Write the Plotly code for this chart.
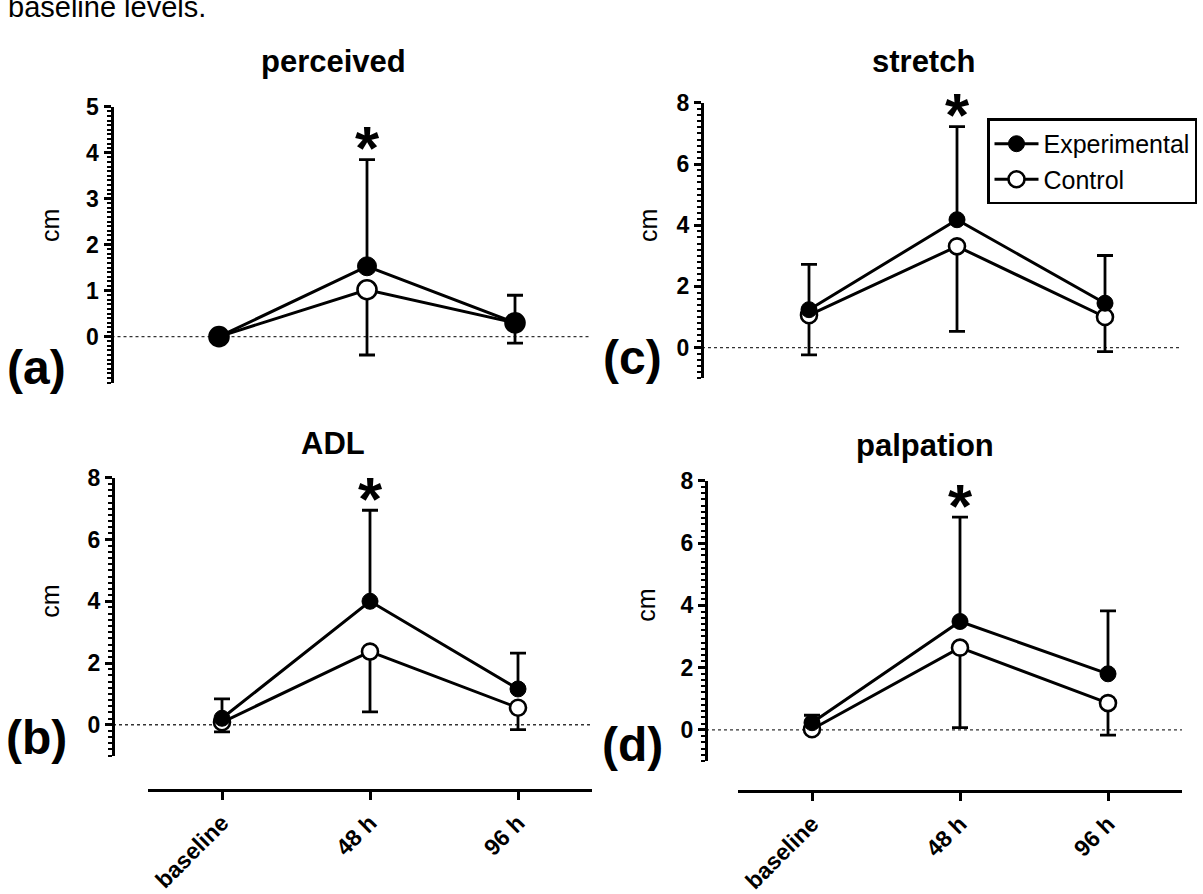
import plotly.graph_objects as go

# ---------------- data ----------------
categories = ["baseline", "48 h", "96 h"]
series_names = ["Experimental", "Control"]
panel_titles = ["perceived", "ADL", "stretch", "palpation"]
panel_letters = ["(a)", "(b)", "(c)", "(d)"]
y_label = "cm"
top_text = "baseline levels."

perceived_exp = [0.00, 1.53, 0.30]
perceived_exp_up = [None, 2.32, 0.60]
perceived_ctl = [0.00, 1.02, 0.30]
perceived_ctl_down = [None, 1.42, 0.44]

adl_exp = [0.21, 4.00, 1.16]
adl_exp_up = [0.63, 2.95, 1.16]
adl_ctl = [0.08, 2.37, 0.55]
adl_ctl_down = [0.31, 1.95, 0.71]

stretch_exp = [1.24, 4.18, 1.45]
stretch_exp_up = [1.48, 3.04, 1.56]
stretch_ctl = [1.06, 3.31, 1.00]
stretch_ctl_down = [1.30, 2.78, 1.13]

palpation_exp = [0.23, 3.48, 1.80]
palpation_exp_up = [0.24, 3.35, 2.02]
palpation_ctl = [0.02, 2.64, 0.86]
palpation_ctl_down = [None, 2.57, 1.03]

y_ticks_perceived = [0, 1, 2, 3, 4, 5]
y_ticks_other = [0, 2, 4, 6, 8]
significant_category = "48 h"

# ---------------- layout helpers ----------------
W, H = 1203, 894
FONT = "Liberation Sans, Arial, sans-serif"


def fx(p):
    return p / W


def fy(p):
    return 1 - p / H


panels = [
    dict(title=panel_titles[0], letter=panel_letters[0], exp=perceived_exp, up=perceived_exp_up,
         ctl=perceived_ctl, down=perceived_ctl_down, ticks=y_ticks_perceived, yr=[-1, 5], minor=0.1,
         xdom=(145, 589), ydom=(96, 378.5), ypos=111.5, xline=None, title_xy=(333, 50),
         letter_xy=(36, 363), cm_xy=(50, 218), ms=19, legend=False),
    dict(title=panel_titles[1], letter=panel_letters[1], exp=adl_exp, up=adl_exp_up,
         ctl=adl_ctl, down=adl_ctl_down, ticks=y_ticks_other, yr=[-1, 8], minor=0.2,
         xdom=(148, 592), ydom=(476, 760.5), ypos=113, xline=796, title_xy=(333, 441),
         letter_xy=(36, 742), cm_xy=(50, 603), ms=16, legend=False),
    dict(title=panel_titles[2], letter=panel_letters[2], exp=stretch_exp, up=stretch_exp_up,
         ctl=stretch_ctl, down=stretch_ctl_down, ticks=y_ticks_other, yr=[-1, 8], minor=0.2,
         xdom=(735, 1179), ydom=(92, 374), ypos=702, xline=None, title_xy=(923, 50),
         letter_xy=(632, 353), cm_xy=(648, 218), ms=16, legend=True),
    dict(title=panel_titles[3], letter=panel_letters[3], exp=palpation_exp, up=palpation_exp_up,
         ctl=palpation_ctl, down=palpation_ctl_down, ticks=y_ticks_other, yr=[-1, 8], minor=0.2,
         xdom=(738, 1182), ydom=(479, 766), ypos=706, xline=797, title_xy=(925, 443),
         letter_xy=(632, 749), cm_xy=(646, 607), ms=16, legend=False),
]

fig = go.Figure()
layout = dict(
    width=W, height=H,
    margin=dict(l=0, r=0, t=0, b=0),
    paper_bgcolor="white", plot_bgcolor="white",
    font=dict(family=FONT, color="black"),
    showlegend=True,
    legend=dict(x=fx(987), y=fy(108), xanchor="left", yanchor="top",
                bordercolor="black", borderwidth=2.5, bgcolor="white",
                font=dict(family=FONT, size=25, color="black"),
                itemwidth=44, tracegroupgap=0),
)
annotations = []
shapes = []

for i, p in enumerate(panels):
    n = i + 1
    xa = "x" if n == 1 else f"x{n}"
    ya = "y" if n == 1 else f"y{n}"
    xkey = "xaxis" if n == 1 else f"xaxis{n}"
    ykey = "yaxis" if n == 1 else f"yaxis{n}"

    # control (open circles, error bars downward)
    fig.add_trace(go.Scatter(
        x=categories, y=p["ctl"], xaxis=xa, yaxis=ya, name=series_names[1],
        mode="lines+markers", legendrank=2, showlegend=p["legend"], cliponaxis=False,
        line=dict(color="black", width=3),
        marker=dict(symbol="circle", size=p["ms"], color="white",
                    line=dict(color="black", width=2.6)),
        error_y=dict(type="data", symmetric=False, array=[None] * len(categories),
                     arrayminus=p["down"], color="black", thickness=2.8, width=8),
    ))
    # experimental (filled circles, error bars upward)
    fig.add_trace(go.Scatter(
        x=categories, y=p["exp"], xaxis=xa, yaxis=ya, name=series_names[0],
        mode="lines+markers", legendrank=1, showlegend=p["legend"], cliponaxis=False,
        line=dict(color="black", width=3),
        marker=dict(symbol="circle", size=p["ms"], color="black",
                    line=dict(color="black", width=1)),
        error_y=dict(type="data", symmetric=False, array=p["up"],
                     arrayminus=[None] * len(categories), color="black", thickness=2.8, width=8),
    ))

    xaxis = dict(domain=[fx(p["xdom"][0]), fx(p["xdom"][1])], type="category",
                 categoryorder="array", categoryarray=categories,
                 range=[-0.5, len(categories) - 0.5], showgrid=False, zeroline=False)
    if p["xline"] is None:
        xaxis.update(visible=False, anchor=ya)
    else:
        xaxis.update(anchor="free", position=fy(p["xline"]), showline=True, linewidth=3,
                     linecolor="black", ticks="outside", ticklen=8, tickwidth=3,
                     tickcolor="black", tickangle=-45,
                     tickfont=dict(family=FONT, size=23, color="black", weight="bold"))
    layout[xkey] = xaxis

    layout[ykey] = dict(
        domain=[fy(p["ydom"][1]), fy(p["ydom"][0])], anchor="free", position=fx(p["ypos"]),
        range=p["yr"], tickvals=p["ticks"], showgrid=False, zeroline=False,
        showline=True, linewidth=3, linecolor="black",
        ticks="outside", ticklen=7, tickwidth=3, tickcolor="black",
        minor=dict(ticks="outside", ticklen=4, tickwidth=2, tickcolor="black",
                   dtick=p["minor"], tick0=0, showgrid=False),
        tickfont=dict(family=FONT, size=23, color="black", weight="bold"),
    )

    # dotted zero line
    shapes.append(dict(type="line", xref="paper", yref=ya, x0=fx(p["ypos"]), x1=fx(p["xdom"][1]),
                       y0=0, y1=0, layer="below",
                       line=dict(color="#333333", width=1.4, dash="dot")))

    # significance star
    k = categories.index(significant_category)
    annotations.append(dict(x=significant_category, y=p["exp"][k] + p["up"][k], xref=xa, yref=ya,
                            text="*", showarrow=False, yanchor="middle", yshift=12,
                            font=dict(family=FONT, size=62, color="black", weight="bold")))
    # title
    annotations.append(dict(x=fx(p["title_xy"][0]), y=fy(p["title_xy"][1]), xref="paper", yref="paper",
                            text=p["title"], showarrow=False, xanchor="center", yanchor="middle",
                            font=dict(family=FONT, size=31, color="black", weight="bold")))
    # panel letter
    annotations.append(dict(x=fx(p["letter_xy"][0]), y=fy(p["letter_xy"][1]), xref="paper", yref="paper",
                            text=p["letter"], showarrow=False, xanchor="center", yanchor="middle",
                            font=dict(family=FONT, size=48, color="black", weight="bold")))
    # y label
    annotations.append(dict(x=fx(p["cm_xy"][0]), y=fy(p["cm_xy"][1]), xref="paper", yref="paper",
                            text=y_label, showarrow=False, textangle=-90, xanchor="center",
                            yanchor="middle", font=dict(family=FONT, size=25, color="black")))

# body text that the original figure crop cuts off at the very top
annotations.append(dict(x=fx(6), y=fy(12), xref="paper", yref="paper", text=top_text,
                        showarrow=False, xanchor="left", yanchor="bottom",
                        font=dict(family=FONT, size=29, color="black")))

layout["annotations"] = annotations
layout["shapes"] = shapes
fig.update_layout(**layout)
fig.write_html("out.html", config={"displayModeBar": False},
               post_script="document.body.style.margin='0';")
